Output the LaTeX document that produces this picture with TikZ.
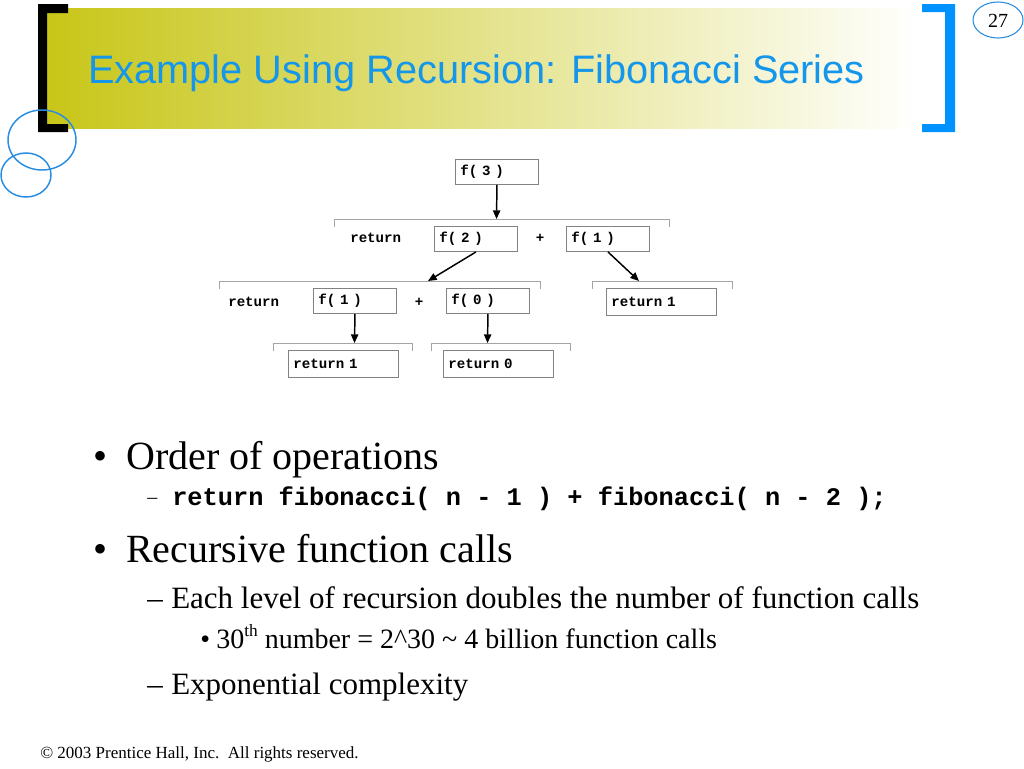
\documentclass[tikz,border=0pt]{standalone}
\usepackage{fontspec}
\setmainfont{Liberation Serif}
\newfontfamily\titlefont{Liberation Sans}
\newfontfamily\codefont{Liberation Mono}
\usetikzlibrary{arrows.meta}

\definecolor{slideblue}{RGB}{20,150,235}
\definecolor{bracketblue}{RGB}{0,146,255}
\definecolor{ringblue}{RGB}{40,140,225}
\definecolor{banneroil}{RGB}{200,198,24}
\definecolor{bannermid}{RGB}{226,222,160}
\definecolor{boxgray}{RGB}{130,130,130}
\definecolor{linegray}{RGB}{165,165,165}

\tikzset{
  codetxt/.style={font=\fontsize{10.6}{12}\selectfont\codefont\bfseries, inner sep=0pt},
  callbox/.style={codetxt, draw=boxgray, line width=0.7pt, anchor=north west,
    inner xsep=3.75pt, inner ysep=0pt, align=left, text width=54.75pt, minimum height=18.75pt},
  retbox/.style={callbox, text width=75pt, minimum height=20.25pt},
  bracket/.style={draw=linegray, line width=0.7pt},
  callarrow/.style={-{Triangle[length=6.5pt,width=5.5pt]}, line width=1.1pt},
  bigtxt/.style={anchor=base west, inner sep=0pt, font=\fontsize{30}{36}\selectfont},
  midtxt/.style={anchor=base west, inner sep=0pt, font=\fontsize{23.25}{28}\selectfont},
  smalltxt/.style={anchor=base west, inner sep=0pt, font=\fontsize{21}{25}\selectfont},
  codeline/.style={anchor=base west, inner sep=0pt, font=\fontsize{19}{23}\selectfont\codefont\bfseries},
}

\begin{document}
\begin{tikzpicture}[x=0.75pt, y=-0.75pt]
\useasboundingbox (0,0) rectangle (1024,768);

% title bar
\shade[left color=banneroil, middle color=bannermid, right color=white] (47,8) rectangle (920,128);
\fill (38,4) -- (68,4) -- (68,13) -- (47,13) -- (47,124) -- (68,124) -- (68,132) -- (38,132) -- cycle;
\fill[bracketblue] (922,4) -- (955,4) -- (955,132) -- (922,132) -- (922,124) -- (945,124) -- (945,12) -- (922,12) -- cycle;
\draw[ringblue, line width=1.1pt] (42,140) ellipse [x radius=34, y radius=30];
\draw[ringblue, line width=1.1pt] (26,175) ellipse [x radius=25, y radius=22];
\node[font=\titlefont\fontsize{29.8}{34}\selectfont, text=slideblue, anchor=base west, inner sep=0pt] (title) at (88,83) {Example Using Recursion: Fibonacci Series};
\draw[ringblue, line width=0.8pt] (998,20) ellipse [x radius=25, y radius=18];
\node[font=\fontsize{15}{17}\selectfont] (pagenum) at (998,21) {27};

% call tree
\node[callbox] (f3) at (455,159) {f( 3 )};
\node[codetxt, anchor=west] (ret2) at (350,238) {return};
\node[callbox] (f2) at (434,226) {f( 2 )};
\node[codetxt] (plusa) at (540,238) {+};
\node[callbox] (f1a) at (566,226) {f( 1 )};
\node[codetxt, anchor=west] (ret1) at (228,302) {return};
\node[callbox] (f1b) at (313,288) {f( 1 )};
\node[codetxt] (plusb) at (419,302) {+};
\node[callbox] (f0) at (446,288) {f( 0 )};
\node[retbox] (r1a) at (606,288) {return 1};
\node[retbox] (r1b) at (288,350) {return 1};
\node[retbox] (r0) at (443,350) {return 0};

\foreach \xa/\xb/\yy in {334/669/219, 219/540/281, 592/732/281, 273/412/343, 431/570/343}
  \draw[bracket] (\xa,\yy+8) -- (\xa,\yy) -- (\xb,\yy) -- (\xb,\yy+8);

\coordinate (lvl1) at (496.5,219);
\coordinate (lvl2a) at (428,281);
\coordinate (lvl2b) at (639,281);
\coordinate (lvl3a) at (354.5,343);
\coordinate (lvl3b) at (487.5,343);
\draw[callarrow] (f3.south) -- (lvl1);
\draw[callarrow] (f2.south) -- (lvl2a);
\draw[callarrow] (f1a.south) -- (lvl2b);
\draw[callarrow] (f1b.south) -- (lvl3a);
\draw[callarrow] (f0.south) -- (lvl3b);

% bullet list
\node[bigtxt] (dota) at (93,469) {\textbullet};
\node[bigtxt] (ordr) at (126,469) {Order of operations};
\node[anchor=base west, inner sep=0pt, font=\fontsize{15}{18}\selectfont] (dasha) at (147,503) {\textendash};
\node[codeline] (code) at (172,505) {return fibonacci( n - 1 ) + fibonacci( n - 2 );};
\node[bigtxt] (dotb) at (93,562) {\textbullet};
\node[bigtxt] (recu) at (126,562) {Recursive function calls};
\node[midtxt] (dashb) at (147,608) {\textendash};
\node[midtxt] (each) at (171,608) {Each level of recursion doubles the number of function calls};
\node[smalltxt] (dotc) at (200,648) {\textbullet};
\node[smalltxt] (thirty) at (216,648) {30\raisebox{0.4em}{\fontsize{13}{13}\selectfont th} number = 2\textasciicircum 30 \textasciitilde{} 4 billion function calls};
\node[midtxt] (dashc) at (147,694) {\textendash};
\node[midtxt] (expo) at (171,694) {Exponential complexity};

\node[anchor=base west, inner sep=0pt, font=\fontsize{12.75}{15}\selectfont] (foot) at (40,758) {\textcopyright{} 2003 Prentice Hall, Inc.\ \ All rights reserved.};
\end{tikzpicture}
\end{document}
